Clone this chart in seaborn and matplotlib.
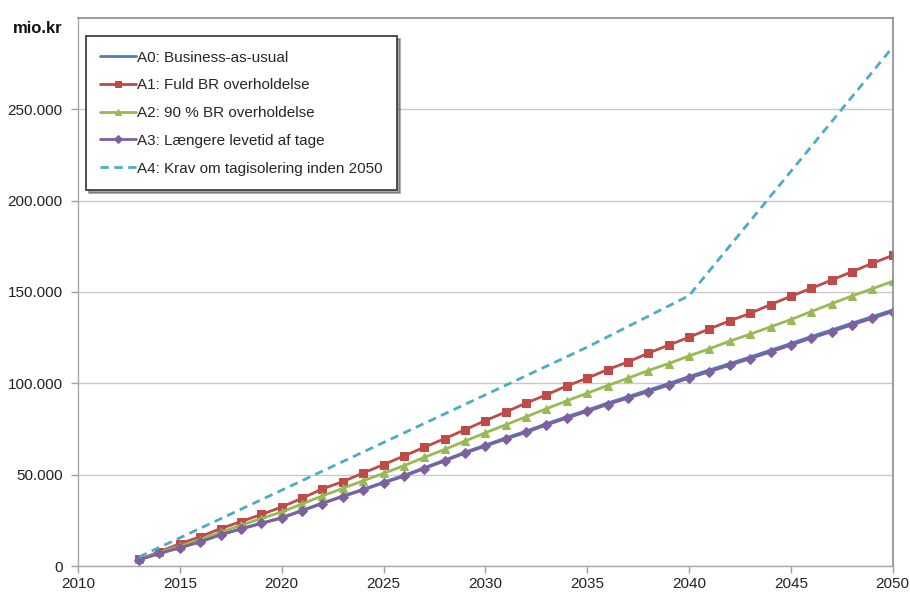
import numpy as np
import pandas as pd
import matplotlib
matplotlib.use("Agg")
import matplotlib.pyplot as plt
from matplotlib.ticker import FuncFormatter
import seaborn as sns

years = list(range(2013, 2051))

a0_bau = [3400, 6900, 10000, 13300, 17200, 20400, 23500, 26500, 30500, 34500,
          38300, 42000, 45900, 49600, 53800, 58000, 62300, 66200, 70100, 73800,
          77900, 81700, 85400, 89200, 92700, 96300, 99900, 103700, 107300, 110800,
          114400, 118100, 121800, 125600, 129200, 132900, 136500, 140100]
a1_fuld = [3600, 7800, 12200, 16000, 20500, 24300, 28200, 32300, 37100, 42200,
           46200, 50900, 55500, 60200, 65000, 69700, 74600, 79600, 84300, 89200,
           93700, 98600, 102800, 107500, 111700, 116500, 120900, 125200, 129800, 134200,
           138300, 143100, 147600, 152000, 156500, 161100, 165700, 170000]
a2_90 = [3600, 7400, 10900, 14500, 18500, 22300, 26000, 29600, 34000, 38400,
         42500, 46700, 50700, 54900, 59500, 63800, 68400, 72900, 77300, 81700,
         86100, 90400, 94600, 98800, 102800, 107000, 110800, 115000, 118900, 123100,
         126900, 130900, 134900, 139300, 143600, 147800, 151800, 155800]
a3_levetid = [3400, 6900, 10000, 13200, 17100, 20200, 23300, 26200, 30200, 34200,
              38000, 41600, 45500, 49100, 53300, 57500, 61800, 65600, 69500, 73100,
              77200, 81000, 84600, 88400, 91900, 95400, 99000, 102900, 106400, 109900,
              113500, 117200, 120900, 124700, 128300, 132000, 135600, 139200]
a4_years = [2013, 2020, 2030, 2035, 2040, 2050]
a4_krav = [5000, 41500, 93700, 119800, 148000, 284000]

labels = ["A0: Business-as-usual", "A1: Fuld BR overholdelse",
          "A2: 90 % BR overholdelse", "A3: Længere levetid af tage",
          "A4: Krav om tagisolering inden 2050"]

sns.set_style("white")
plt.rcParams["font.family"] = ["Liberation Sans", "DejaVu Sans"]

fig = plt.figure(figsize=(9.1, 5.97), dpi=100)
ax = fig.add_axes([0.0857, 0.0519, 0.8953, 0.9181])

series = [
    (years, a0_bau, "#4A7EBB", None),
    (years, a1_fuld, "#BE4B48", "s"),
    (years, a2_90, "#98B954", "^"),
    (years, a3_levetid, "#7D60A0", "D"),
]
for (xs, ys, col, mk), lab in zip(series, labels[:4]):
    sns.lineplot(x=xs, y=ys, ax=ax, color=col, marker=mk, markersize=5.5,
                 markeredgecolor=col, linewidth=2.0, label=lab)

sns.lineplot(x=a4_years, y=a4_krav, ax=ax, color="#4BACC6", linewidth=2.0,
             linestyle=(0, (3, 2)), label=labels[4])

ax.set_xlim(2010, 2050)
ax.set_ylim(0, 300000)
ax.set_xticks(range(2010, 2051, 5))
ax.set_yticks(range(0, 250001, 50000))
ax.yaxis.set_major_formatter(FuncFormatter(lambda v, p: f"{int(v):,}".replace(",", ".")))
ax.yaxis.grid(True, color="#C8C8C8", linewidth=1.0)
ax.set_axisbelow(True)
ax.tick_params(axis="both", labelsize=11, direction="out", length=5, width=1,
               left=True, bottom=True, colors="#A0A0A0", labelcolor="#222222")
ax.tick_params(axis="y", pad=6)
ax.tick_params(axis="x", pad=3)
for side in ["left", "bottom"]:
    ax.spines[side].set_color("#A8A8A8")
    ax.spines[side].set_linewidth(1.0)
for side in ["top", "right"]:
    ax.spines[side].set_color("#8C8C8C")
    ax.spines[side].set_linewidth(1.2)

fig.text(0.014, 0.952, "mio.kr", fontsize=12, fontweight="bold", color="#111111",
         va="center", ha="left")

leg = ax.legend(loc="upper left", bbox_to_anchor=(0.0098, 0.967), frameon=True,
                fancybox=False, shadow=True, fontsize=11, handlelength=2.3,
                labelspacing=0.9, borderpad=0.95, handletextpad=0.1,
                borderaxespad=0.0)
leg.get_frame().set_edgecolor("#404040")
leg.get_frame().set_linewidth(1.3)
for h in leg.legend_handles:
    h.set_markersize(4)

ax.set_xlabel("")
ax.set_ylabel("")
fig.savefig("out.png", dpi=100)
